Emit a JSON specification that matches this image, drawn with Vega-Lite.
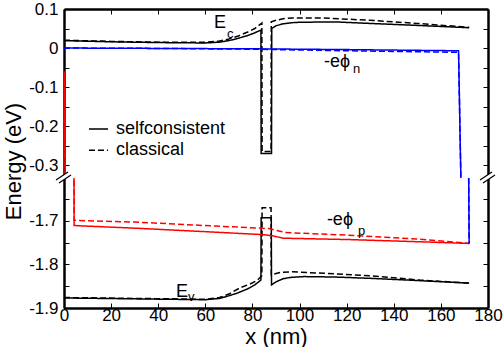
{
  "$schema": "https://vega.github.io/schema/vega-lite/v6.json",
  "padding": {"left": 2, "top": 0, "right": 0, "bottom": 0},
  "bounds": "flush",
  "spacing": 0,
  "config": {
    "view": {"stroke": null},
    "font": "Liberation Sans",
    "axis": {
      "domainColor": "black", "domainWidth": 2.5, "tickColor": "black", "tickWidth": 1,
      "labelColor": "black", "labelFontSize": 17, "labelFont": "Liberation Sans",
      "titleColor": "black", "titleFontSize": 22, "titleFontWeight": "normal", "titleFont": "Liberation Sans",
      "grid": false, "labelFlush": false, "labelOverlap": false, "tickSize": -5
    }
  },
  "datasets": {
    "curves": [
      {"series": "Ec", "model": "selfconsistent", "x": 0, "y": 0.019},
      {"series": "Ec", "model": "selfconsistent", "x": 20, "y": 0.016},
      {"series": "Ec", "model": "selfconsistent", "x": 40, "y": 0.014},
      {"series": "Ec", "model": "selfconsistent", "x": 60, "y": 0.013},
      {"series": "Ec", "model": "selfconsistent", "x": 66, "y": 0.015},
      {"series": "Ec", "model": "selfconsistent", "x": 70, "y": 0.019},
      {"series": "Ec", "model": "selfconsistent", "x": 74, "y": 0.025},
      {"series": "Ec", "model": "selfconsistent", "x": 78, "y": 0.032},
      {"series": "Ec", "model": "selfconsistent", "x": 81, "y": 0.039},
      {"series": "Ec", "model": "selfconsistent", "x": 83.6, "y": 0.046},
      {"series": "Ec", "model": "selfconsistent", "x": 83.7, "y": -0.27},
      {"series": "Ec", "model": "selfconsistent", "x": 88.1, "y": -0.27},
      {"series": "Ec", "model": "selfconsistent", "x": 88.2, "y": 0.05},
      {"series": "Ec", "model": "selfconsistent", "x": 90, "y": 0.057},
      {"series": "Ec", "model": "selfconsistent", "x": 93, "y": 0.062},
      {"series": "Ec", "model": "selfconsistent", "x": 97, "y": 0.065},
      {"series": "Ec", "model": "selfconsistent", "x": 100, "y": 0.066},
      {"series": "Ec", "model": "selfconsistent", "x": 115, "y": 0.067},
      {"series": "Ec", "model": "selfconsistent", "x": 130, "y": 0.063},
      {"series": "Ec", "model": "selfconsistent", "x": 150, "y": 0.058},
      {"series": "Ec", "model": "selfconsistent", "x": 172, "y": 0.052},
      {"series": "Ec", "model": "classical", "x": 0, "y": 0.02},
      {"series": "Ec", "model": "classical", "x": 20, "y": 0.017},
      {"series": "Ec", "model": "classical", "x": 40, "y": 0.015},
      {"series": "Ec", "model": "classical", "x": 60, "y": 0.015},
      {"series": "Ec", "model": "classical", "x": 66, "y": 0.018},
      {"series": "Ec", "model": "classical", "x": 70, "y": 0.023},
      {"series": "Ec", "model": "classical", "x": 74, "y": 0.031},
      {"series": "Ec", "model": "classical", "x": 78, "y": 0.041},
      {"series": "Ec", "model": "classical", "x": 81, "y": 0.05},
      {"series": "Ec", "model": "classical", "x": 84.0, "y": 0.064},
      {"series": "Ec", "model": "classical", "x": 84.1, "y": -0.265},
      {"series": "Ec", "model": "classical", "x": 87.9, "y": -0.265},
      {"series": "Ec", "model": "classical", "x": 88.0, "y": 0.067},
      {"series": "Ec", "model": "classical", "x": 90, "y": 0.071},
      {"series": "Ec", "model": "classical", "x": 93, "y": 0.075},
      {"series": "Ec", "model": "classical", "x": 97, "y": 0.077},
      {"series": "Ec", "model": "classical", "x": 110, "y": 0.077},
      {"series": "Ec", "model": "classical", "x": 130, "y": 0.071},
      {"series": "Ec", "model": "classical", "x": 150, "y": 0.063},
      {"series": "Ec", "model": "classical", "x": 172, "y": 0.053},
      {"series": "Ev", "model": "selfconsistent", "x": 0, "y": -1.877},
      {"series": "Ev", "model": "selfconsistent", "x": 30, "y": -1.879},
      {"series": "Ev", "model": "selfconsistent", "x": 60, "y": -1.881},
      {"series": "Ev", "model": "selfconsistent", "x": 66, "y": -1.878},
      {"series": "Ev", "model": "selfconsistent", "x": 70, "y": -1.872},
      {"series": "Ev", "model": "selfconsistent", "x": 74, "y": -1.865},
      {"series": "Ev", "model": "selfconsistent", "x": 78, "y": -1.856},
      {"series": "Ev", "model": "selfconsistent", "x": 81, "y": -1.847},
      {"series": "Ev", "model": "selfconsistent", "x": 83.6, "y": -1.836},
      {"series": "Ev", "model": "selfconsistent", "x": 83.7, "y": -1.693},
      {"series": "Ev", "model": "selfconsistent", "x": 88.0, "y": -1.693},
      {"series": "Ev", "model": "selfconsistent", "x": 88.1, "y": -1.847},
      {"series": "Ev", "model": "selfconsistent", "x": 90, "y": -1.84},
      {"series": "Ev", "model": "selfconsistent", "x": 93, "y": -1.833},
      {"series": "Ev", "model": "selfconsistent", "x": 96, "y": -1.83},
      {"series": "Ev", "model": "selfconsistent", "x": 102, "y": -1.828},
      {"series": "Ev", "model": "selfconsistent", "x": 115, "y": -1.829},
      {"series": "Ev", "model": "selfconsistent", "x": 130, "y": -1.832},
      {"series": "Ev", "model": "selfconsistent", "x": 150, "y": -1.837},
      {"series": "Ev", "model": "selfconsistent", "x": 172, "y": -1.843},
      {"series": "Ev", "model": "classical", "x": 0, "y": -1.876},
      {"series": "Ev", "model": "classical", "x": 30, "y": -1.878},
      {"series": "Ev", "model": "classical", "x": 60, "y": -1.88},
      {"series": "Ev", "model": "classical", "x": 66, "y": -1.876},
      {"series": "Ev", "model": "classical", "x": 70, "y": -1.868},
      {"series": "Ev", "model": "classical", "x": 75, "y": -1.853},
      {"series": "Ev", "model": "classical", "x": 79, "y": -1.845},
      {"series": "Ev", "model": "classical", "x": 82, "y": -1.837},
      {"series": "Ev", "model": "classical", "x": 84.0, "y": -1.826},
      {"series": "Ev", "model": "classical", "x": 84.1, "y": -1.67},
      {"series": "Ev", "model": "classical", "x": 87.9, "y": -1.67},
      {"series": "Ev", "model": "classical", "x": 88.0, "y": -1.824},
      {"series": "Ev", "model": "classical", "x": 92, "y": -1.818},
      {"series": "Ev", "model": "classical", "x": 97, "y": -1.817},
      {"series": "Ev", "model": "classical", "x": 116, "y": -1.822},
      {"series": "Ev", "model": "classical", "x": 130, "y": -1.826},
      {"series": "Ev", "model": "classical", "x": 151, "y": -1.836},
      {"series": "Ev", "model": "classical", "x": 172, "y": -1.843},
      {"series": "phip", "model": "selfconsistent", "x": 0, "y": -0.06},
      {"series": "phip", "model": "selfconsistent", "x": 0.15, "y": -0.1},
      {"series": "phip", "model": "selfconsistent", "x": 0.5, "y": -0.34},
      {"series": "phip", "model": "selfconsistent", "x": 4.25, "y": -1.6},
      {"series": "phip", "model": "selfconsistent", "x": 4.3, "y": -1.711},
      {"series": "phip", "model": "selfconsistent", "x": 30, "y": -1.717},
      {"series": "phip", "model": "selfconsistent", "x": 60, "y": -1.725},
      {"series": "phip", "model": "selfconsistent", "x": 85, "y": -1.732},
      {"series": "phip", "model": "selfconsistent", "x": 89, "y": -1.735},
      {"series": "phip", "model": "selfconsistent", "x": 93, "y": -1.74},
      {"series": "phip", "model": "selfconsistent", "x": 120, "y": -1.743},
      {"series": "phip", "model": "selfconsistent", "x": 150, "y": -1.748},
      {"series": "phip", "model": "selfconsistent", "x": 172, "y": -1.752},
      {"series": "phip", "model": "classical", "x": 0, "y": -0.06},
      {"series": "phip", "model": "classical", "x": 0.15, "y": -0.1},
      {"series": "phip", "model": "classical", "x": 0.5, "y": -0.34},
      {"series": "phip", "model": "classical", "x": 4.25, "y": -1.6},
      {"series": "phip", "model": "classical", "x": 4.3, "y": -1.699},
      {"series": "phip", "model": "classical", "x": 30, "y": -1.703},
      {"series": "phip", "model": "classical", "x": 60, "y": -1.711},
      {"series": "phip", "model": "classical", "x": 87, "y": -1.718},
      {"series": "phip", "model": "classical", "x": 90, "y": -1.722},
      {"series": "phip", "model": "classical", "x": 94, "y": -1.727},
      {"series": "phip", "model": "classical", "x": 120, "y": -1.733},
      {"series": "phip", "model": "classical", "x": 150, "y": -1.742},
      {"series": "phip", "model": "classical", "x": 172, "y": -1.752},
      {"series": "phin", "model": "selfconsistent", "x": 0, "y": 0},
      {"series": "phin", "model": "selfconsistent", "x": 40, "y": -0.001},
      {"series": "phin", "model": "selfconsistent", "x": 80, "y": -0.002},
      {"series": "phin", "model": "selfconsistent", "x": 120, "y": -0.004},
      {"series": "phin", "model": "selfconsistent", "x": 167.5, "y": -0.007},
      {"series": "phin", "model": "selfconsistent", "x": 168.5, "y": -0.34},
      {"series": "phin", "model": "selfconsistent", "x": 171.8, "y": -1.6},
      {"series": "phin", "model": "selfconsistent", "x": 172, "y": -1.752},
      {"series": "phin", "model": "classical", "x": 0, "y": 0},
      {"series": "phin", "model": "classical", "x": 40, "y": -0.001},
      {"series": "phin", "model": "classical", "x": 80, "y": -0.003},
      {"series": "phin", "model": "classical", "x": 120, "y": -0.007},
      {"series": "phin", "model": "classical", "x": 167.5, "y": -0.011},
      {"series": "phin", "model": "classical", "x": 168.5, "y": -0.34},
      {"series": "phin", "model": "classical", "x": 171.8, "y": -1.6},
      {"series": "phin", "model": "classical", "x": 172, "y": -1.752}
    ],
    "legendLines": [
      {"model": "selfconsistent", "x": 10.6, "x2": 18.7, "y": -0.2077},
      {"model": "classical", "x": 10.6, "x2": 18.7, "y": -0.262}
    ],
    "legendText": [
      {"text": "selfconsistent", "x": 22.1, "y": -0.2077},
      {"text": "classical", "x": 22.1, "y": -0.262}
    ],
    "labels": [
      {"panel": "top", "text": "E", "x": 63.7, "y": 0.064},
      {"panel": "top", "text": "-eϕ", "x": 110.4, "y": -0.036},
      {"panel": "bottom", "text": "-eϕ", "x": 111.6, "y": -1.698},
      {"panel": "bottom", "text": "E", "x": 47.5, "y": -1.864}
    ],
    "subs": [
      {"panel": "top", "text": "c", "x": 69.2, "y": 0.036},
      {"panel": "top", "text": "n", "x": 122.7, "y": -0.054},
      {"panel": "bottom", "text": "p", "x": 124.8, "y": -1.723},
      {"panel": "bottom", "text": "v", "x": 52.6, "y": -1.875}
    ],
    "breaks": [
      {"x": 0, "y": -1.602},
      {"x": 180, "y": -1.602}
    ]
  },
  "vconcat": [
    {
      "width": 424,
      "height": 169,
      "layer": [
        {
          "data": {"name": "curves"},
          "mark": {"type": "line", "clip": true, "strokeWidth": 1.5},
          "encoding": {
            "x": {"field": "x", "type": "quantitative",
              "scale": {"domain": [0, 180], "nice": false, "zero": false},
              "axis": {"orient": "top", "values": [0,10,20,30,40,50,60,70,80,90,100,110,120,130,140,150,160,170,180], "labels": false, "title": null}},
            "y": {"field": "y", "type": "quantitative",
              "scale": {"domain": [-0.333, 0.1], "nice": false, "zero": false},
              "axis": {"orient": "left", "values": [0.1, 0.05, 0, -0.05, -0.1, -0.15, -0.2, -0.25, -0.3],
                "labelPadding": 11,
                "labelExpr": "abs(datum.value*10 - round(datum.value*10)) < 0.001 ? replace(format(datum.value, '.1~f'), '\u2212', '-') : ''",
                "title": "Energy (eV)", "titleX": -51, "titleY": 152, "titleBaseline": "middle", "titleAngle": -90}},
            "color": {"field": "series", "type": "nominal",
              "scale": {"domain": ["Ec", "Ev", "phip", "phin"], "range": ["black", "black", "red", "blue"]}, "legend": null},
            "strokeDash": {"field": "model", "type": "nominal",
              "scale": {"domain": ["selfconsistent", "classical"], "range": [[1, 0], [6, 3]]}, "legend": null}
          }
        },
        {
          "data": {"name": "legendLines"},
          "mark": {"type": "rule", "color": "black", "strokeWidth": 1.5},
          "encoding": {
            "x": {"field": "x", "type": "quantitative"},
            "x2": {"field": "x2"},
            "y": {"field": "y", "type": "quantitative",
              "axis": {"orient": "right", "values": [0.1, 0.05, 0, -0.05, -0.1, -0.15, -0.2, -0.25, -0.3], "labels": false, "title": null}},
            "strokeDash": {"field": "model", "type": "nominal", "legend": null}
          }
        },
        {
          "data": {"name": "legendText"},
          "mark": {"type": "text", "align": "left", "baseline": "middle", "fontSize": 18, "color": "black"},
          "encoding": {
            "x": {"field": "x", "type": "quantitative"},
            "y": {"field": "y", "type": "quantitative", "axis": null},
            "text": {"field": "text"}
          }
        },
        {
          "data": {"name": "labels"},
          "transform": [{"filter": "datum.panel == 'top'"}],
          "mark": {"type": "text", "align": "left", "baseline": "middle", "fontSize": 18, "color": "black"},
          "encoding": {
            "x": {"field": "x", "type": "quantitative"},
            "y": {"field": "y", "type": "quantitative", "axis": null},
            "text": {"field": "text"}
          }
        },
        {
          "data": {"name": "subs"},
          "transform": [{"filter": "datum.panel == 'top'"}],
          "mark": {"type": "text", "align": "left", "baseline": "middle", "fontSize": 13, "color": "black"},
          "encoding": {
            "x": {"field": "x", "type": "quantitative"},
            "y": {"field": "y", "type": "quantitative", "axis": null},
            "text": {"field": "text"}
          }
        }
      ],
      "resolve": {"axis": {"y": "independent"}}
    },
    {
      "width": 424,
      "height": 130,
      "layer": [
        {
          "data": {"name": "curves"},
          "mark": {"type": "line", "clip": true, "strokeWidth": 1.5},
          "encoding": {
            "x": {"field": "x", "type": "quantitative",
              "scale": {"domain": [0, 180], "nice": false, "zero": false},
              "axis": {"orient": "bottom", "values": [0,10,20,30,40,50,60,70,80,90,100,110,120,130,140,150,160,170,180],
                "labelPadding": 4, "labelExpr": "datum.value % 20 == 0 ? format(datum.value, 'd') : ''",
                "title": "x (nm)", "titlePadding": 3}},
            "y": {"field": "y", "type": "quantitative",
              "scale": {"domain": [-1.9, -1.602], "nice": false, "zero": false},
              "axis": {"orient": "left", "values": [-1.65, -1.7, -1.75, -1.8, -1.85, -1.9],
                "labelPadding": 11,
                "labelExpr": "abs(datum.value*10 - round(datum.value*10)) < 0.001 ? replace(format(datum.value, '.1~f'), '\u2212', '-') : ''",
                "title": null}},
            "color": {"field": "series", "type": "nominal",
              "scale": {"domain": ["Ec", "Ev", "phip", "phin"], "range": ["black", "black", "red", "blue"]}, "legend": null},
            "strokeDash": {"field": "model", "type": "nominal",
              "scale": {"domain": ["selfconsistent", "classical"], "range": [[1, 0], [6, 3]]}, "legend": null}
          }
        },
        {
          "data": {"name": "labels"},
          "transform": [{"filter": "datum.panel == 'bottom'"}],
          "mark": {"type": "text", "align": "left", "baseline": "middle", "fontSize": 18, "color": "black"},
          "encoding": {
            "x": {"field": "x", "type": "quantitative"},
            "y": {"field": "y", "type": "quantitative",
              "axis": {"orient": "right", "values": [-1.65, -1.7, -1.75, -1.8, -1.85, -1.9], "labels": false, "title": null}},
            "text": {"field": "text"}
          }
        },
        {
          "data": {"name": "subs"},
          "transform": [{"filter": "datum.panel == 'bottom'"}],
          "mark": {"type": "text", "align": "left", "baseline": "middle", "fontSize": 13, "color": "black"},
          "encoding": {
            "x": {"field": "x", "type": "quantitative"},
            "y": {"field": "y", "type": "quantitative", "axis": null},
            "text": {"field": "text"}
          }
        },
        {
          "data": {"name": "breaks"},
          "mark": {"type": "point", "clip": false, "filled": true, "fill": "white", "strokeWidth": 0, "opacity": 1,
            "shape": "M -1 0.25 L 0.5 -0.75 L 0.875 -0.375 L -0.625 0.625 Z", "size": 256},
          "encoding": {
            "x": {"field": "x", "type": "quantitative"},
            "y": {"field": "y", "type": "quantitative", "axis": null}
          }
        },
        {
          "data": {"name": "breaks"},
          "mark": {"type": "point", "clip": false, "filled": false, "stroke": "black", "strokeWidth": 1.2, "opacity": 1,
            "shape": "M -1 0.25 L 0.5 -0.75 M -0.625 0.625 L 0.875 -0.375", "size": 256},
          "encoding": {
            "x": {"field": "x", "type": "quantitative"},
            "y": {"field": "y", "type": "quantitative", "axis": null}
          }
        }
      ],
      "resolve": {"axis": {"y": "independent"}}
    }
  ]
}
